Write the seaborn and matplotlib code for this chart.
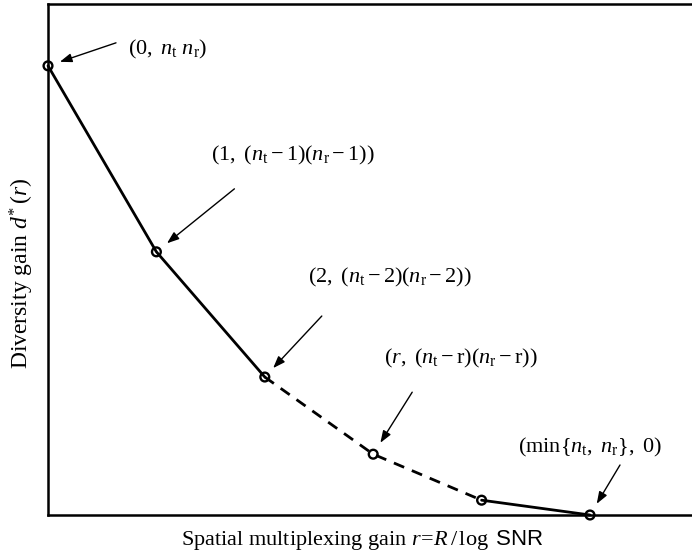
import matplotlib
matplotlib.use("Agg")
import matplotlib.pyplot as plt
import seaborn as sns
import pandas as pd

# Data
r_vals = [0, 1, 2, 3, 4, 5]
d_vals = [8.79, 5.15, 2.70, 1.19, 0.29, 0.0]
# segments: solid 0-2, dashed 2-4, solid 4-5
seg_a = [0, 1, 2]
seg_b = [2, 3, 4]
seg_c = [4, 5]
labels = [
    r"$(0,\ n_\mathrm{t}\ n_\mathrm{r})$",
    r"$(1,\ (n_\mathrm{t}-1)(n_\mathrm{r}-1))$",
    r"$(2,\ (n_\mathrm{t}-2)(n_\mathrm{r}-2))$",
    r"$(r,\ (n_\mathrm{t}-\mathrm{r})(n_\mathrm{r}-\mathrm{r}))$",
    r"$(\mathrm{min}\{n_\mathrm{t},\ n_\mathrm{r}\},\ 0)$",
]
label_points = [0, 1, 2, 3, 5]

sns.set_theme(style="white")
plt.rcParams["font.family"] = ["Liberation Serif", "DejaVu Serif"]
plt.rcParams["mathtext.fontset"] = "custom"
plt.rcParams["mathtext.rm"] = "Liberation Serif"
plt.rcParams["mathtext.it"] = "Liberation Serif:italic"
plt.rcParams["mathtext.sf"] = "Liberation Sans"
plt.rcParams["text.color"] = "black"
plt.rcParams["axes.labelcolor"] = "black"

rows = []
for name, idx in (("a", seg_a), ("b", seg_b), ("c", seg_c)):
    for i in idx:
        rows.append({"r": r_vals[i], "d": d_vals[i], "seg": name})
df = pd.DataFrame(rows)
pts = pd.DataFrame({"r": r_vals, "d": d_vals})

fig = plt.figure(figsize=(6.92, 5.57), dpi=100)
ax = fig.add_axes([48 / 692, 42 / 557, 6 * 108.4 / 692, 511 / 557])

sns.lineplot(data=df, x="r", y="d", style="seg", units="seg", estimator=None,
             dashes={"a": "", "b": (4, 3), "c": ""}, color="black",
             linewidth=2.0, legend=False, sort=False, ax=ax)
sns.scatterplot(data=pts, x="r", y="d", marker="o", s=40, facecolor="none",
                edgecolor="black", linewidth=1.7, zorder=5, clip_on=False,
                legend=False, ax=ax)
for coll in ax.collections:
    coll.set_clip_on(False)
for ln in ax.lines:
    ln.set_clip_on(False)

ax.set_xlim(0, 6.0)
ax.set_ylim(0, 10)
ax.set_xticks([])
ax.set_yticks([])
for s in ("left", "bottom", "top"):
    ax.spines[s].set_visible(True)
    ax.spines[s].set_color("black")
    ax.spines[s].set_linewidth(1.8)
ax.spines["right"].set_visible(False)

# annotations: (text offset px, arrow tail offset px, head shrink pt)
text_off = [(80, 16), (55, 96), (43, 100), (11, 96), (-72, 68)]
tail_off = [(68, 23), (78, 63), (57, 61), (39, 62), (30, 50)]
head_shrink = [9, 9.8, 8.8, 9.7, 9.4]
for lab, pi, to, ta, hs in zip(labels, label_points, text_off, tail_off, head_shrink):
    xy = (r_vals[pi], d_vals[pi])
    ax.annotate("", xy=xy, xycoords="data", xytext=ta, textcoords="offset pixels",
                arrowprops=dict(arrowstyle="-|>,head_length=0.6,head_width=0.22",
                                color="black", lw=1.0, shrinkA=0, shrinkB=hs),
                annotation_clip=False)
    ax.annotate(lab, xy=xy, xycoords="data", xytext=to, textcoords="offset pixels",
                ha="left", va="center", fontsize=16, color="black",
                annotation_clip=False)

ax.set_xlabel(r"Spatial multiplexing gain $r\!=\!R\,/\,\log\ \mathsf{SNR}$",
              fontsize=16, color="black")
ax.set_ylabel(r"Diversity gain $d^{*}\,(r)$", fontsize=17, color="black")
ax.xaxis.set_label_coords((362 - 48) / 650.4, -(540 - 515) / 511)
ax.yaxis.set_label_coords((22 - 48) / 650.4, (515 - 273) / 511)
ax.xaxis.label.set_va("center")
ax.yaxis.label.set_va("center")

fig.savefig("out.png", dpi=100)
